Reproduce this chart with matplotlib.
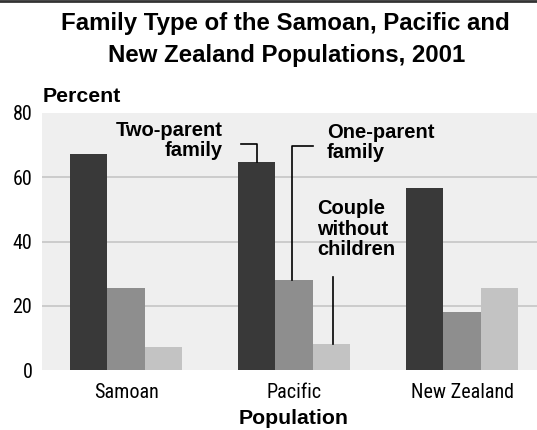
import matplotlib
matplotlib.use("Agg")
import matplotlib.pyplot as plt
from matplotlib.lines import Line2D
import numpy as np

categories = ["Samoan", "Pacific", "New Zealand"]
two_parent = [67.3, 64.8, 56.7]
one_parent = [25.5, 28.0, 17.9]
couple_no_children = [7.2, 8.1, 25.5]
series_labels = ["Two-parent\nfamily", "One-parent\nfamily", "Couple\nwithout\nchildren"]
yticks = [0, 20, 40, 60, 80]

colors = ["#393939", "#8e8e8e", "#c3c3c3"]
narrow = ["Roboto Condensed", "Liberation Sans", "DejaVu Sans"]
sans = ["Liberation Sans", "DejaVu Sans"]

W, H = 537, 430
fig = plt.figure(figsize=(W / 100, H / 100), dpi=100)
L, R, T, B = 42, 537, 113, 370
ax = fig.add_axes([L / W, 1 - B / H, (R - L) / W, (B - T) / H])
ax.set_facecolor("#efefef")

x = np.arange(len(categories))
bw = 0.223
series = [two_parent, one_parent, couple_no_children]
for i, (vals, c) in enumerate(zip(series, colors)):
    ax.bar(x + (i - 1) * bw, vals, width=bw, color=c, zorder=3, linewidth=0)

ax.set_xlim(-0.5, 2.446)
ax.set_ylim(0, 80)
ax.set_yticks(yticks)
ax.set_yticklabels([str(v) for v in yticks], family=narrow, fontsize=14.5)
ax.set_xticks(x)
ax.set_xticklabels(categories, family=narrow, fontsize=14.5)
ax.tick_params(length=0, pad=7)
ax.tick_params(axis="x", pad=9)
for s in ax.spines.values():
    s.set_visible(False)
for v in yticks[1:-1]:
    ax.axhline(v, color="#c9c9c9", lw=1.3, zorder=1)

# annotations for the Pacific group
px = 1
lc = "black"
lw = 1.2
# Two-parent
xb = px - bw
ax.add_line(Line2D([xb - 0.095, xb, xb], [70.4, 70.4, two_parent[px]], color=lc, lw=lw, zorder=4))
ax.text(0.577, 77.6, series_labels[0], ha="right", va="top", family=sans,
        fontweight="bold", fontsize=14.5, linespacing=1.1)
# One-parent
xb = px - 0.015
ax.add_line(Line2D([xb + 0.125, xb, xb], [69.7, 69.7, one_parent[px]], color=lc, lw=lw, zorder=4))
ax.text(1.196, 77.0, series_labels[1], ha="left", va="top", family=sans,
        fontweight="bold", fontsize=14.5, linespacing=1.1)
# Couple without children
xb = px + bw + 0.01
ax.add_line(Line2D([xb, xb], [29.0, couple_no_children[px]], color=lc, lw=lw, zorder=4))
ax.text(1.137, 53.2, series_labels[2], ha="left", va="top", family=sans,
        fontweight="bold", fontsize=14.5, linespacing=1.1)

# Titles
fig.text(285.5 / W, 1 - 30 / H, "Family Type of the Samoan, Pacific and", ha="center",
         va="baseline", family=sans, fontweight="bold", fontsize=17.3)
fig.text(286.5 / W, 1 - 62 / H, "New Zealand Populations, 2001", ha="center",
         va="baseline", family=sans, fontweight="bold", fontsize=17.3)
fig.text(43 / W, 1 - 102 / H, "Percent", ha="left", va="baseline", family=sans,
         fontweight="bold", fontsize=15.3)
fig.text(294 / W, 1 - 424 / H, "Population", ha="center", va="baseline", family=sans,
         fontweight="bold", fontsize=15.3)

# top border
fig.add_artist(Line2D([0, 1], [1 - 1 / H, 1 - 1 / H], transform=fig.transFigure,
                      color="#333333", lw=2))

fig.savefig("out.png", dpi=100)
